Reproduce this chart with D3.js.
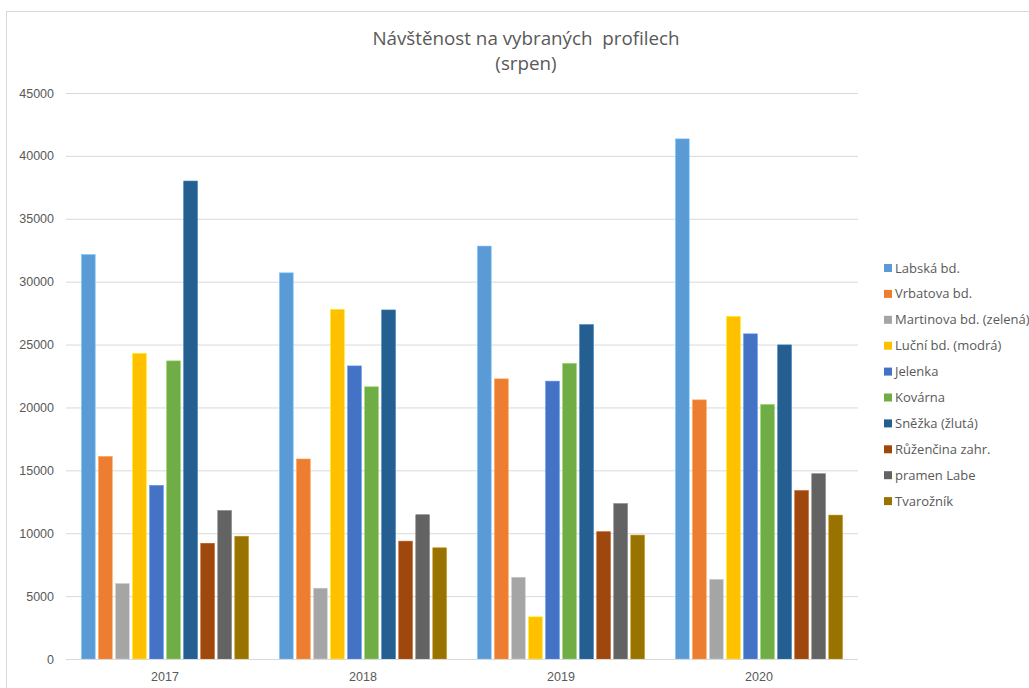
<!DOCTYPE html>
<html>
<head>
<meta charset="utf-8">
<script src="https://cdn.jsdelivr.net/npm/d3@7"></script>
<style>
  html, body { margin: 0; padding: 0; background: #fff; }
  svg { display: block; font-family: "Open Sans", sans-serif; }
</style>
</head>
<body>
<svg id="chart" width="1029" height="688"></svg>
<script>
const years = ['2017', '2018', '2019', '2020']
const profiles = ['Labská bd.', 'Vrbatova bd.', 'Martinova bd. (zelená)', 'Luční bd. (modrá)', 'Jelenka',
    'Kovárna', 'Sněžka (žlutá)', 'Růženčina zahr.', 'pramen Labe', 'Tvarožník']
// one array per year, in the order of profiles
const values2017 = [32150, 16100, 6000, 24300, 13800, 23700, 38000, 9200, 11800, 9760]
const values2018 = [30700, 15900, 5630, 27800, 23300, 21640, 27750, 9370, 11470, 8840]
const values2019 = [32830, 22270, 6500, 3350, 22090, 23500, 26580, 10120, 12350, 9850]
const values2020 = [41350, 20600, 6330, 27240, 25850, 20230, 24970, 13390, 14730, 11440]
const yTicks = [0, 5000, 10000, 15000, 20000, 25000, 30000, 35000, 40000, 45000]
const colours = ['#5b9bd5', '#ed7d31', '#a5a5a5', '#ffc000', '#4472c4', '#70ad47', '#255e91', '#9e480e', '#636363', '#997300']

const valuesByYear = [values2017, values2018, values2019, values2020]
const textColour = '#595959'
const gridColour = '#d9d9d9'

const svg = d3.select('#chart')

const plot = { left: 66, right: 858, top: 93, bottom: 659 }

// chart frame, runs off the right and bottom edges
svg.append('rect')
    .attr('x', 6.5).attr('y', 11.5)
    .attr('width', 1100).attr('height', 800)
    .attr('fill', '#fff')
    .attr('stroke', gridColour)

const y = d3.scaleLinear().domain([0, 45000]).range([plot.bottom, plot.top])
const x0 = d3.scaleBand().domain(years).range([plot.left, plot.right])
    .paddingInner(0.14).paddingOuter(0.07)
const x1 = d3.scaleBand().domain(profiles).range([0, x0.bandwidth()])
    .paddingInner(0.2).paddingOuter(0.1)
const colour = d3.scaleOrdinal().domain(profiles).range(colours)

// gridlines + y labels
const yAxis = d3.axisLeft(y).tickValues(yTicks).tickFormat(d3.format('d'))
    .tickSize(-(plot.right - plot.left)).tickPadding(12)
svg.append('g')
    .attr('transform', `translate(${plot.left},0)`)
    .call(yAxis)
    .call(g => g.select('.domain').remove())
    .call(g => g.selectAll('.tick line').attr('stroke', gridColour))
    .call(g => g.selectAll('.tick text')
        .attr('fill', textColour)
        .style('font-size', '12.5px'))

// bars
const groups = svg.append('g')
    .selectAll('g')
    .data(years)
    .join('g')
    .attr('transform', d => `translate(${x0(d)},0)`)

groups.selectAll('rect')
    .data((d, i) => profiles.map((p, j) => ({ profile: p, value: valuesByYear[i][j] })))
    .join('rect')
    .attr('x', d => x1(d.profile))
    .attr('y', d => y(d.value))
    .attr('width', x1.bandwidth())
    .attr('height', d => y(0) - y(d.value))
    .attr('fill', d => colour(d.profile))
    .attr('stroke', d => d3.color(colour(d.profile)).brighter(0.6))
    .attr('stroke-width', 0.6)

// x axis
const xAxis = d3.scaleBand().domain(years).range([plot.left, plot.right])
svg.append('g')
    .attr('transform', `translate(0,${plot.bottom})`)
    .call(d3.axisBottom(xAxis).tickSize(0).tickPadding(13))
    .call(g => g.select('.domain').attr('stroke', gridColour).attr('d', `M${plot.left},0.5H${plot.right}`))
    .call(g => g.selectAll('.tick text')
        .attr('fill', textColour)
        .style('font-size', '12.5px'))

// title
const title = svg.append('text')
    .attr('text-anchor', 'middle')
    .attr('fill', textColour)
    .style('font-size', '18.8px')
    .style('white-space', 'pre')
title.append('tspan').attr('x', 526).attr('y', 45).text('Návštěnost na vybraných  profilech')
title.append('tspan').attr('x', 526).attr('y', 70).text('(srpen)')

// legend
const legend = svg.append('g')
    .selectAll('g')
    .data(profiles)
    .join('g')
    .attr('transform', (d, i) => `translate(884,${268 + i * 25.9})`)

legend.append('rect')
    .attr('x', 0).attr('y', -4)
    .attr('width', 8).attr('height', 8)
    .attr('fill', d => colour(d))

legend.append('text')
    .attr('x', 11)
    .attr('dy', '0.35em')
    .attr('fill', textColour)
    .style('font-size', '13px')
    .text(d => d)
</script>
</body>
</html>
